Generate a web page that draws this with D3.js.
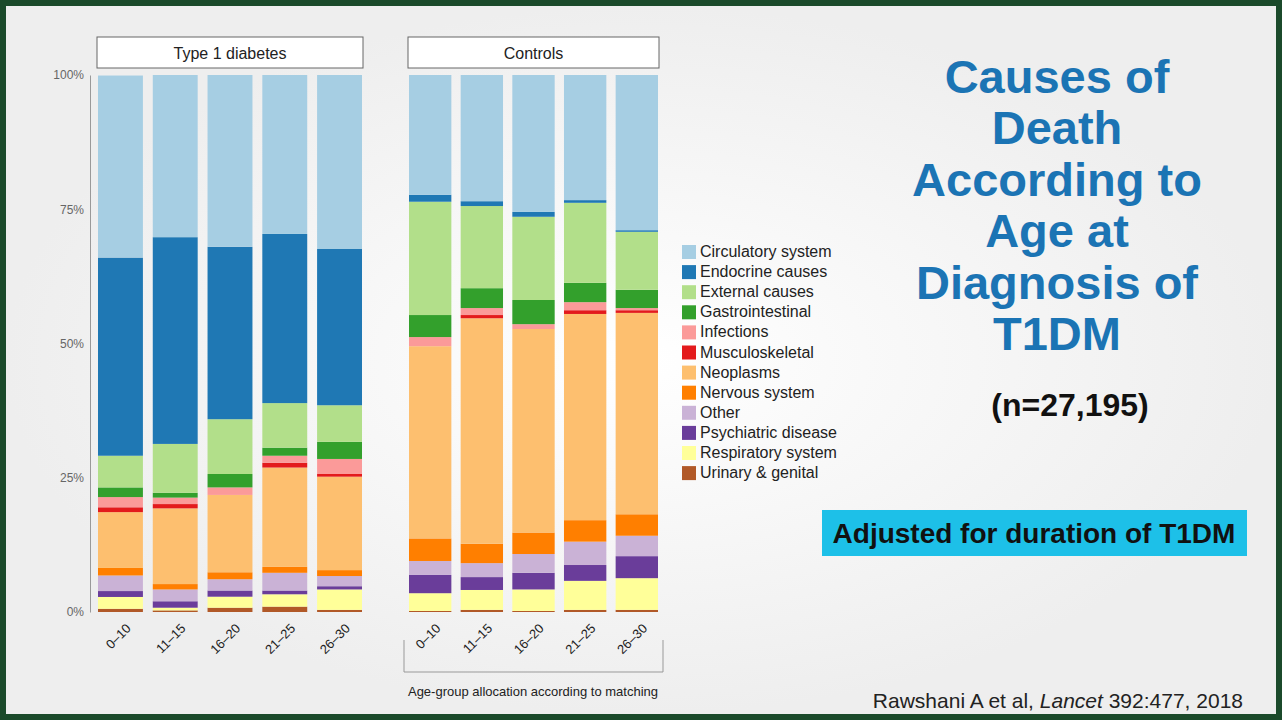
<!DOCTYPE html>
<html><head><meta charset="utf-8">
<script src="https://cdn.jsdelivr.net/npm/d3@7"></script>
<style>body{margin:0;background:#1b4a2b;}svg{display:block;font-family:"Liberation Sans",Arial,sans-serif;}</style>
</head><body><div id="chart"></div>
<script>
// causes, bottom to top in stack order
const causes = ["Urinary & genital","Respiratory system","Psychiatric disease","Other","Nervous system","Neoplasms","Musculoskeletal","Infections","Gastrointestinal","External causes","Endocrine causes","Circulatory system"];
const legendOrder = ["Circulatory system","Endocrine causes","External causes","Gastrointestinal","Infections","Musculoskeletal","Neoplasms","Nervous system","Other","Psychiatric disease","Respiratory system","Urinary & genital"];
const ageGroups = ["0–10","11–15","16–20","21–25","26–30"];
const yTicks = ["0%","25%","50%","75%","100%"];
// percent per cause (same order as causes) for each age group
const t1d = [
  [0.6,2.2,1.1,2.9,1.4,10.4,0.9,1.9,1.8,5.9,36.9,33.9],
  [0.3,0.5,1.2,2.2,1.0,14.1,0.8,1.2,0.9,9.1,38.5,30.2],
  [0.8,2.05,1.15,2.1,1.3,14.4,0.0,1.4,2.5,10.2,32.1,32.0],
  [1.0,2.3,0.7,3.3,1.1,18.5,0.9,1.3,1.5,8.3,31.5,29.6],
  [0.4,3.8,0.6,1.9,1.1,17.4,0.5,2.8,3.2,6.8,29.1,32.4]
];
const controls = [
  [0.2,3.3,3.4,2.6,4.2,35.8,0.0,1.7,4.1,21.1,1.3,22.3],
  [0.4,3.7,2.4,2.6,3.6,42.0,0.6,1.3,3.7,15.3,0.9,23.5],
  [0.2,4.0,3.1,3.5,4.0,37.9,0.0,0.9,4.5,15.5,0.9,25.5],
  [0.4,5.4,2.95,4.35,4.0,38.4,0.7,1.5,3.6,14.9,0.5,23.3],
  [0.4,5.9,4.1,3.8,4.0,37.5,0.5,0.4,3.4,10.8,0.3,28.9]
];
const titleLines = ["Causes of","Death","According to","Age at","Diagnosis of","T1DM"];

const W=1282,H=720;
const svg=d3.select("#chart").append("svg").attr("width",W).attr("height",H);
const grad=svg.append("defs").append("radialGradient").attr("id","bg");
grad.append("stop").attr("offset","0%").attr("stop-color","#ffffff");
grad.append("stop").attr("offset","100%").attr("stop-color","#eeeeee");
svg.append("rect").attr("width",W).attr("height",H).attr("fill","#1b4a2b");
svg.append("rect").attr("x",6).attr("y",6).attr("width",W-12).attr("height",H-12).attr("fill","url(#bg)");

const color=d3.scaleOrdinal().domain(["Circulatory system","Endocrine causes","External causes","Gastrointestinal","Infections","Musculoskeletal","Neoplasms","Nervous system","Other","Psychiatric disease","Respiratory system","Urinary & genital"]).range(d3.schemePaired);
const y=d3.scaleLinear().domain([0,100]).range([612,75]);

svg.append("g").attr("transform","translate(90,0)")
  .call(d3.axisLeft(y).tickValues([0,25,50,75,100]).tickFormat((d,i)=>yTicks[i]).tickSize(0).tickPadding(6))
  .call(g=>{g.select(".domain").attr("stroke","#999");g.selectAll("text").attr("fill","#666").attr("font-size",12);});

function panel(data,x0,x1,label){
  const x=d3.scaleBand().domain(ageGroups).range([x0,x1]).paddingInner(0.18).paddingOuter(0);
  const rows=data.map((v,i)=>{const o={age:ageGroups[i]};causes.forEach((c,j)=>o[c]=v[j]);return o;});
  const series=d3.stack().keys(causes)(rows);
  svg.append("g").selectAll("g").data(series).join("g").attr("fill",d=>color(d.key))
    .selectAll("rect").data(d=>d).join("rect")
    .attr("x",d=>x(d.data.age)).attr("width",x.bandwidth())
    .attr("y",d=>y(d[1])).attr("height",d=>y(d[0])-y(d[1]));
  svg.append("rect").attr("x",x0-1).attr("y",37).attr("width",x1-x0+2).attr("height",31)
    .attr("fill","#fff").attr("stroke","#666");
  svg.append("text").attr("x",(x0+x1)/2).attr("y",59).attr("text-anchor","middle").attr("font-size",16).attr("fill","#222").text(label);
  const ax=svg.append("g").attr("transform","translate(0,612)").call(d3.axisBottom(x).tickSize(0).tickPadding(0));
  ax.select(".domain").remove();
  ax.selectAll("text").attr("font-size",13).attr("fill","#222").attr("text-anchor","end")
    .attr("transform","translate(8,14) rotate(-45)").attr("dy","0.35em");
  return x;
}
panel(t1d,98,362,"Type 1 diabetes");
panel(controls,409,658,"Controls");

svg.append("path").attr("d","M404,640V672H663V640").attr("fill","none").attr("stroke","#999");
svg.append("text").attr("x",533).attr("y",696).attr("text-anchor","middle").attr("font-size",13).attr("fill","#222").text("Age-group allocation according to matching");

const lg=svg.append("g").attr("transform","translate(682,245)");
legendOrder.forEach((c,i)=>{
  lg.append("rect").attr("x",0).attr("y",i*20.1).attr("width",14).attr("height",14).attr("fill",color(c));
  lg.append("text").attr("x",18).attr("y",i*20.1+12).attr("font-size",16).attr("fill","#222").text(c);
});

titleLines.forEach((t,i)=>svg.append("text").attr("x",1057).attr("y",93+i*51.4).attr("text-anchor","middle")
  .attr("font-size",47).attr("font-weight","bold").attr("fill","#1b74b4").text(t));
svg.append("text").attr("x",1070).attr("y",416).attr("text-anchor","middle").attr("font-size",32).attr("font-weight","bold").attr("fill","#111").text("(n=27,195)");
svg.append("rect").attr("x",822).attr("y",510).attr("width",425).attr("height",46).attr("fill","#1dc0e8");
svg.append("text").attr("x",1034).attr("y",543).attr("text-anchor","middle").attr("font-size",28).attr("font-weight","bold").attr("fill","#111").text("Adjusted for duration of T1DM");
const cit=svg.append("text").attr("x",1243).attr("y",708).attr("text-anchor","end").attr("font-size",21).attr("fill","#222");
cit.append("tspan").text("Rawshani A et al, ");
cit.append("tspan").attr("font-style","italic").text("Lancet");
cit.append("tspan").text(" 392:477, 2018");
</script></body></html>
